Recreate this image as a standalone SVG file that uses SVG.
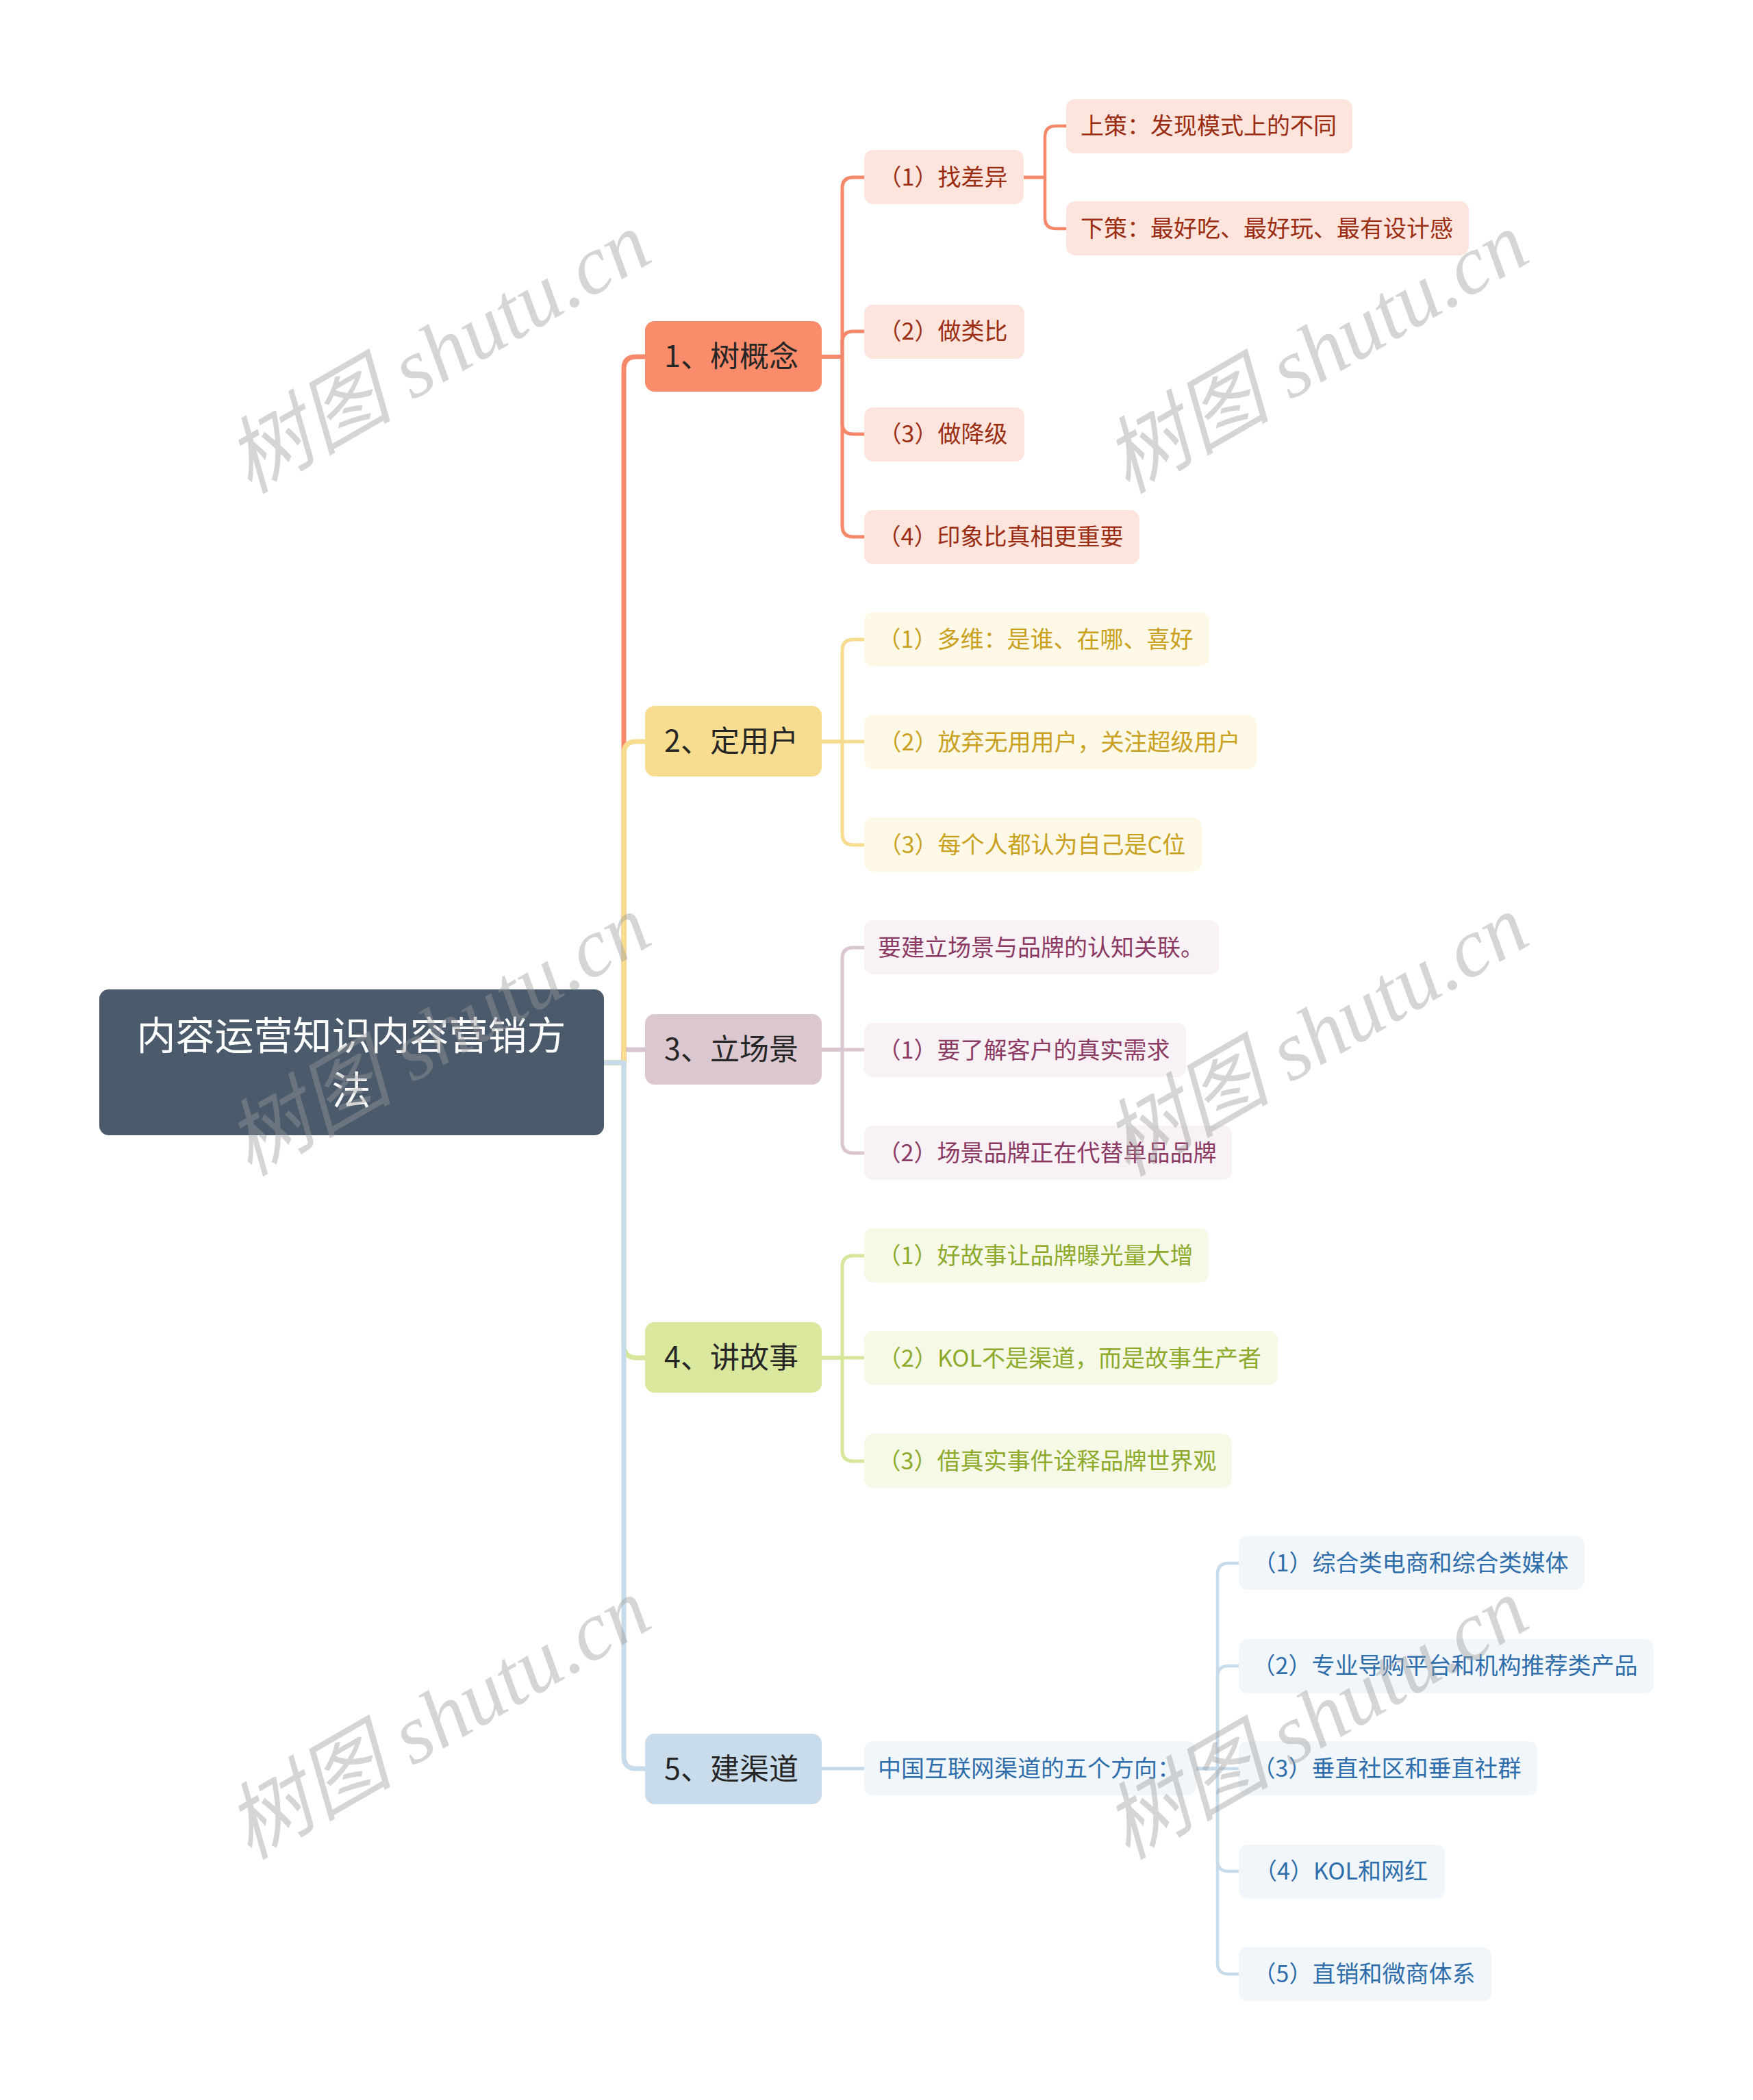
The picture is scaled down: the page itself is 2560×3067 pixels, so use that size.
<svg xmlns="http://www.w3.org/2000/svg" width="2560" height="3067" viewBox="0 0 2560 3067">
<style>
text{font-family:"Noto Sans CJK SC","Noto Sans",sans-serif;}
.root{fill:#4B5B6B;}
.rt{fill:#FFFFFF;font-size:57px;text-anchor:middle;}
.l1t{fill:#262626;font-size:43px;text-anchor:middle;}
.t2{font-size:34px;text-anchor:middle;}
.ln{fill:none;stroke-linecap:butt;stroke-linejoin:round;}
.w1{stroke-width:7;}
.w2{stroke-width:5;}
.w3{stroke-width:4.5;}
.o{stroke:#F5886A;} .y{stroke:#F7DC8F;} .m{stroke:#D9C6D0;} .g{stroke:#D6E79C;} .b{stroke:#C8DBEA;}
.n1{fill:#FA8B6B;} .n2{fill:#F8DD90;} .n3{fill:#DAC7D0;} .n4{fill:#D9E89D;} .n5{fill:#C9DCEB;}
.c1{fill:#FDE4DD;} .c2{fill:#FEF8E6;} .c3{fill:#F8F1F5;} .c4{fill:#F5F9E6;} .c5{fill:#F1F6FA;}
.tc1{fill:#9A2D12;} .tc2{fill:#C9A11E;} .tc3{fill:#8B3A63;} .tc4{fill:#8DAA2C;} .tc5{fill:#2F6EAB;}
.wm{font-family:"Liberation Serif","Noto Sans CJK SC",serif;font-style:italic;font-size:122px;fill:#9A9A9A;fill-opacity:0.42;text-anchor:middle;dominant-baseline:central;}
</style>
<rect width="2560" height="3067" fill="#FFFFFF"/>
<g id="connectors">
  <path class="ln w1 m" d="M882,1552 H911 V1533 H942"/>
  <path class="ln w1 o" d="M882,1552 H911 V539 Q911,521 929,521 H942"/>
  <path class="ln w1 y" d="M882,1552 H911 V1101 Q911,1083 929,1083 H942"/>
  <path class="ln w1 g" d="M882,1552 H911 V1964 Q911,1983 929,1983 H942"/>
  <path class="ln w1 b" d="M882,1552 H911 V2565 Q911,2583 929,2583 H942"/>
  <path class="ln w2 o" d="M1200,521 H1230 V275 Q1230,259 1246,259 H1262"/>
  <path class="ln w2 o" d="M1200,521 H1230 V500 Q1230,484 1246,484 H1262"/>
  <path class="ln w2 o" d="M1200,521 H1230 V618 Q1230,634 1246,634 H1262"/>
  <path class="ln w2 o" d="M1200,521 H1230 V768 Q1230,784 1246,784 H1262"/>
  <path class="ln w2 y" d="M1200,1083 H1230 V950 Q1230,934 1246,934 H1262"/>
  <path class="ln w2 y" d="M1200,1083 H1262"/>
  <path class="ln w2 y" d="M1200,1083 H1230 V1218 Q1230,1234 1246,1234 H1262"/>
  <path class="ln w2 m" d="M1200,1533 H1230 V1400 Q1230,1384 1246,1384 H1262"/>
  <path class="ln w2 m" d="M1200,1533 H1262"/>
  <path class="ln w2 m" d="M1200,1533 H1230 V1668 Q1230,1684 1246,1684 H1262"/>
  <path class="ln w2 g" d="M1200,1983 H1230 V1850 Q1230,1834 1246,1834 H1262"/>
  <path class="ln w2 g" d="M1200,1983 H1262"/>
  <path class="ln w2 g" d="M1200,1983 H1230 V2118 Q1230,2134 1246,2134 H1262"/>
  <path class="ln w2 b" d="M1200,2583 H1262"/>
  <path class="ln w3 o" d="M1495,259 H1526 V200 Q1526,184 1542,184 H1557"/>
  <path class="ln w3 o" d="M1495,259 H1526 V318 Q1526,334 1542,334 H1557"/>
  <path class="ln w3 b" d="M1747,2583 H1778 V2299 Q1778,2283 1794,2283 H1809"/>
  <path class="ln w3 b" d="M1747,2583 H1778 V2449 Q1778,2433 1794,2433 H1809"/>
  <path class="ln w3 b" d="M1747,2583 H1809"/>
  <path class="ln w3 b" d="M1747,2583 H1778 V2717 Q1778,2733 1794,2733 H1809"/>
  <path class="ln w3 b" d="M1747,2583 H1778 V2867 Q1778,2883 1794,2883 H1809"/>
</g>
<g id="root">
  <rect class="root" x="145" y="1445" width="737" height="213" rx="14"/>
  <text class="rt" x="513" y="1533">内容运营知识内容营销方</text>
  <text class="rt" x="513" y="1613">法</text>
</g>
<g id="n1"><rect class="n1" x="942" y="469" width="258" height="103" rx="14"/><text class="l1t" x="1068" y="536">1、树概念</text></g>
<g id="n2"><rect class="n2" x="942" y="1031" width="258" height="103" rx="14"/><text class="l1t" x="1068" y="1098">2、定用户</text></g>
<g id="n3"><rect class="n3" x="942" y="1481" width="258" height="103" rx="14"/><text class="l1t" x="1068" y="1548">3、立场景</text></g>
<g id="n4"><rect class="n4" x="942" y="1931" width="258" height="103" rx="14"/><text class="l1t" x="1068" y="1998">4、讲故事</text></g>
<g id="n5"><rect class="n5" x="942" y="2532" width="258" height="103" rx="14"/><text class="l1t" x="1068" y="2599">5、建渠道</text></g>

<g id="c11"><rect class="c1" x="1262" y="219" width="233" height="79" rx="13"/><text class="t2 tc1" x="1377" y="271">（1）找差异</text></g>
<g id="c12"><rect class="c1" x="1262" y="445" width="234" height="79" rx="13"/><text class="t2 tc1" x="1377" y="496">（2）做类比</text></g>
<g id="c13"><rect class="c1" x="1262" y="595" width="234" height="79" rx="13"/><text class="t2 tc1" x="1377" y="646">（3）做降级</text></g>
<g id="c14"><rect class="c1" x="1262" y="745" width="402" height="79" rx="13"/><text class="t2 tc1" x="1461" y="796">（4）印象比真相更重要</text></g>
<g id="c111"><rect class="c1" x="1557" y="145" width="418" height="79" rx="13"/><text class="t2 tc1" x="1765" y="196">上策：发现模式上的不同</text></g>
<g id="c112"><rect class="c1" x="1557" y="294" width="588" height="79" rx="13"/><text class="t2 tc1" x="1850" y="346">下策：最好吃、最好玩、最有设计感</text></g>

<g id="c21"><rect class="c2" x="1262" y="894" width="504" height="79" rx="13"/><text class="t2 tc2" x="1512" y="946">（1）多维：是谁、在哪、喜好</text></g>
<g id="c22"><rect class="c2" x="1262" y="1044" width="573" height="79" rx="13"/><text class="t2 tc2" x="1547" y="1096">（2）放弃无用用户，关注超级用户</text></g>
<g id="c23"><rect class="c2" x="1262" y="1194" width="493" height="79" rx="13"/><text class="t2 tc2" x="1507" y="1246">（3）每个人都认为自己是C位</text></g>

<g id="c31"><rect class="c3" x="1262" y="1344" width="518" height="79" rx="13"/><text class="t2 tc3" x="1520" y="1396">要建立场景与品牌的认知关联。</text></g>
<g id="c32"><rect class="c3" x="1262" y="1494" width="470" height="79" rx="13"/><text class="t2 tc3" x="1495" y="1546">（1）要了解客户的真实需求</text></g>
<g id="c33"><rect class="c3" x="1262" y="1644" width="537" height="79" rx="13"/><text class="t2 tc3" x="1529" y="1696">（2）场景品牌正在代替单品品牌</text></g>

<g id="c41"><rect class="c4" x="1262" y="1794" width="503" height="79" rx="13"/><text class="t2 tc4" x="1512" y="1846">（1）好故事让品牌曝光量大增</text></g>
<g id="c42"><rect class="c4" x="1262" y="1944" width="604" height="79" rx="13"/><text class="t2 tc4" x="1562" y="1996">（2）KOL不是渠道，而是故事生产者</text></g>
<g id="c43"><rect class="c4" x="1262" y="2094" width="537" height="79" rx="13"/><text class="t2 tc4" x="1529" y="2146">（3）借真实事件诠释品牌世界观</text></g>

<g id="c51"><rect class="c5" x="1262" y="2543" width="485" height="79" rx="13"/><text class="t2 tc5" x="1503" y="2595">中国互联网渠道的五个方向：</text></g>
<g id="c511"><rect class="c5" x="1809" y="2243" width="505" height="79" rx="13"/><text class="t2 tc5" x="2060" y="2295">（1）综合类电商和综合类媒体</text></g>
<g id="c512"><rect class="c5" x="1809" y="2394" width="606" height="79" rx="13"/><text class="t2 tc5" x="2110" y="2445">（2）专业导购平台和机构推荐类产品</text></g>
<g id="c513"><rect class="c5" x="1809" y="2543" width="436" height="79" rx="13"/><text class="t2 tc5" x="2025" y="2595">（3）垂直社区和垂直社群</text></g>
<g id="c514"><rect class="c5" x="1809" y="2694" width="301" height="79" rx="13"/><text class="t2 tc5" x="1958" y="2745">（4）KOL和网红</text></g>
<g id="c515"><rect class="c5" x="1809" y="2844" width="369" height="79" rx="13"/><text class="t2 tc5" x="1992" y="2895">（5）直销和微商体系</text></g>

<g id="watermarks">
  <text class="wm" transform="translate(640,515) rotate(-30)">树图 shutu.cn</text>
  <text class="wm" transform="translate(1922,515) rotate(-30)">树图 shutu.cn</text>
  <text class="wm" transform="translate(640,1512) rotate(-30)">树图 shutu.cn</text>
  <text class="wm" transform="translate(1922,1512) rotate(-30)">树图 shutu.cn</text>
  <text class="wm" transform="translate(640,2510) rotate(-30)">树图 shutu.cn</text>
  <text class="wm" transform="translate(1922,2510) rotate(-30)">树图 shutu.cn</text>
</g>
</svg>
